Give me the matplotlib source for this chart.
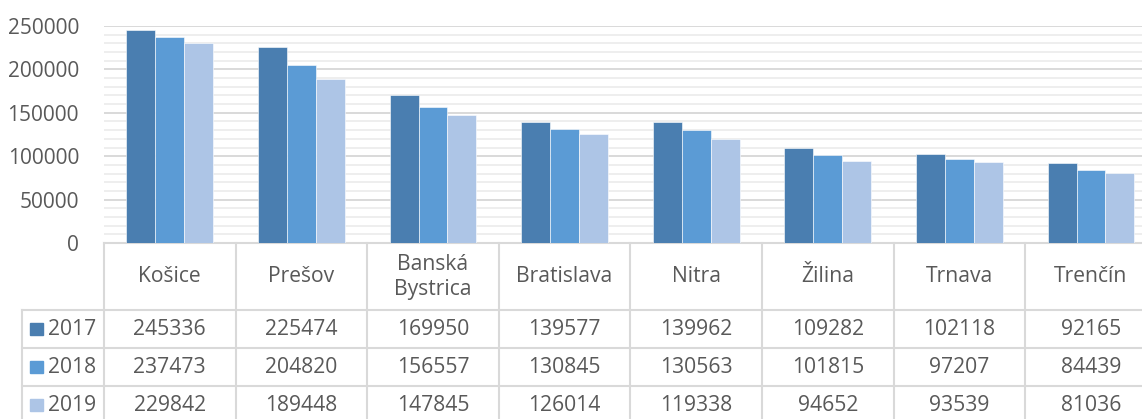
import matplotlib.pyplot as plt
from matplotlib.patches import Rectangle

regions = ["Košice", "Prešov", "Banská\nBystrica", "Bratislava", "Nitra", "Žilina", "Trnava", "Trenčín"]
years = ["2017", "2018", "2019"]
v2017 = [245336, 225474, 169950, 139577, 139962, 109282, 102118, 92165]
v2018 = [237473, 204820, 156557, 130845, 130563, 101815, 97207, 84439]
v2019 = [229842, 189448, 147845, 126014, 119338, 94652, 93539, 81036]
series = [v2017, v2018, v2019]
colors = ["#4a7eb0", "#5b9bd5", "#adc5e6"]

plt.rcParams["font.family"] = ["Open Sans", "DejaVu Sans"]
TXT = "#595959"
LINE = "#d9d9d9"
FS = 15.2

W, H = 1142, 419
fig = plt.figure(figsize=(W / 100, H / 100), dpi=100)

# category width in px, chart runs off the right edge of the picture
cw = 131.6
x0 = 104
ax = fig.add_axes([x0 / W, (H - 243) / H, 8 * cw / W, (243 - 26) / H])

n = len(regions)
bw = 0.22
for i, (vals, c) in enumerate(zip(series, colors)):
    xs = [k + (i - 1) * bw for k in range(n)]
    ax.bar(xs, vals, width=bw, color=c, edgecolor="white", linewidth=0.4, zorder=3)

ax.set_xlim(-0.5, n - 0.5)
ax.set_ylim(0, 250000)
ax.set_yticks(range(0, 250001, 50000))
ax.set_yticks(range(0, 250001, 10000), minor=True)
ax.grid(which="major", axis="y", color=LINE, lw=1.4, zorder=1)
ax.grid(which="minor", axis="y", color="#eeeeee", lw=1.4, zorder=0)
ax.set_axisbelow(True)
ax.set_xticks([])
for s in ["top", "right", "left"]:
    ax.spines[s].set_visible(False)
ax.spines["bottom"].set_color(LINE)
ax.spines["bottom"].set_linewidth(1.5)
ax.tick_params(axis="y", which="both", length=0, pad=18, labelsize=15, labelcolor=TXT)

# data table below the chart
tab = fig.add_axes([x0 / W, 0, 8 * cw / W, 176 / H])
tab.set_xlim(-0.5, n - 0.5)
tab.set_ylim(176, 0)
tab.axis("off")

def px(xp):
    return -0.5 + (xp - x0) / cw

hdr = 67
rh = 38
row_lines = [hdr, hdr + rh, hdr + 2 * rh]
left = px(22)

for k in range(n + 1):
    tab.plot([k - 0.5, k - 0.5], [0, 200], color=LINE, lw=1.5, clip_on=False)
tab.plot([left, left], [hdr, 200], color=LINE, lw=1.5, clip_on=False)
for y in row_lines:
    tab.plot([left, n - 0.5], [y, y], color=LINE, lw=1.5, clip_on=False)

for k, name in enumerate(regions):
    tab.text(k, hdr / 2, name, ha="center", va="center", fontsize=FS, color=TXT,
             linespacing=1.25)

for i, (yr, vals, c) in enumerate(zip(years, series, colors)):
    yc = hdr + rh * i + rh / 2
    tab.add_patch(Rectangle((px(30), yc - 6), px(43) - px(30), 12, color=c, clip_on=False))
    tab.text(px(48), yc, yr, ha="left", va="center", fontsize=FS, color=TXT, clip_on=False)
    for k, v in enumerate(vals):
        tab.text(k, yc, str(v), ha="center", va="center", fontsize=FS, color=TXT)

fig.savefig("out.png", dpi=100)
